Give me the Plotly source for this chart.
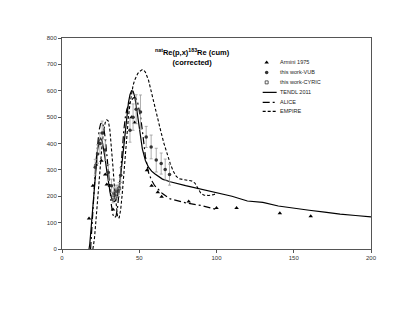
import plotly.graph_objects as go

# ---------------- data ----------------
armini_e = [17.5, 20, 22, 25.5, 28, 29, 31, 33, 34.5, 45, 47, 55, 58, 62, 64.5, 82, 100, 113, 141, 161]
armini_xs = [116, 240, 320, 335, 282, 245, 240, 150, 200, 500, 480, 299, 240, 215, 198, 180, 155, 155, 136, 124]

vub_e = [21.5, 23, 24.5, 26, 28, 30, 32, 33.5, 35, 36.5, 38, 44, 46, 48, 50.8, 54.5, 57.7, 61, 64.2, 66.8, 69.6]
vub_xs = [310, 360, 400, 440, 375, 290, 240, 210, 220, 220, 280, 450, 500, 530, 519, 425, 387, 337, 324, 301, 282]
vub_err = [30, 35, 40, 45, 40, 30, 25, 22, 22, 22, 28, 45, 50, 55, 65, 40, 45, 45, 40, 40, 40]

cyric_e = [33, 35, 37]
cyric_xs = [195, 210, 230]
cyric_err = [20, 20, 22]

tendl_e = [17.5, 18, 19, 20, 21, 22, 23, 24, 25, 26, 27, 28, 29, 30, 31, 32, 33, 34, 35, 36, 37, 38, 39, 40,
           41, 42, 43, 44, 45, 46, 47, 48, 49, 50, 52, 54, 56, 58, 60, 65, 70, 80, 90, 100, 110, 120, 130,
           140, 150, 160, 170, 180, 190, 200]
tendl_xs = [0, 20, 90, 170, 250, 320, 375, 410, 420, 410, 380, 340, 295, 255, 220, 195, 182, 180, 188, 205,
            235, 280, 340, 400, 460, 510, 555, 585, 600, 598, 580, 545, 500, 450, 380, 335, 310, 295, 285,
            265, 255, 240, 226, 213, 200, 182, 177, 163, 154, 147, 140, 132, 127, 122]

alice_e = [18.5, 19, 20, 21, 22, 23, 24, 25, 26, 27, 28, 29, 30, 31, 32, 33, 34, 35, 36, 37, 38, 39, 40, 41,
           42, 43, 44, 45, 46, 47, 48, 49, 50, 51, 52, 53, 54, 56, 58, 60, 65, 70, 80, 90, 100]
alice_xs = [0, 40, 140, 240, 330, 400, 450, 475, 480, 460, 420, 360, 290, 220, 165, 130, 118, 125, 160, 220,
            300, 380, 450, 500, 530, 545, 555, 565, 572, 575, 570, 555, 530, 495, 450, 400, 350, 290, 260,
            240, 210, 190, 175, 165, 150]

empire_e = [20, 21, 22, 23, 24, 25, 26, 27, 28, 29, 30, 31, 32, 33, 34, 35, 36, 37, 38, 39, 40, 41, 42, 43,
            44, 45, 46, 47, 48, 49, 50, 51, 52, 53, 54, 56, 58, 60, 62, 64, 66, 68, 70, 72, 74, 76, 80, 84,
            86, 88, 90, 92, 95, 98, 100]
empire_xs = [0, 40, 110, 190, 270, 340, 400, 450, 480, 490, 485, 450, 390, 310, 230, 160, 120, 118, 150, 210,
             290, 370, 440, 500, 550, 590, 620, 640, 655, 665, 672, 678, 680, 678, 670, 640, 590, 535, 490,
             445, 400, 360, 325, 295, 275, 266, 262, 258, 250, 230, 210, 204, 203, 206, 210]

legend_names = ["Armini 1975", "this work-VUB", "this work-CYRIC", "TENDL 2011", "ALICE", "EMPIRE"]

FONT = "Liberation Sans, Arial, sans-serif"
DASHDOT = "7px,3px,2px,3px"
DASH = "3px,2px"

fig = go.Figure()

# model curves
fig.add_trace(go.Scatter(x=tendl_e, y=tendl_xs, mode="lines", line=dict(color="black", width=1.2)))
fig.add_trace(go.Scatter(x=alice_e, y=alice_xs, mode="lines", line=dict(color="black", width=1.2, dash=DASHDOT)))
fig.add_trace(go.Scatter(x=empire_e, y=empire_xs, mode="lines", line=dict(color="black", width=1.1, dash=DASH)))

# experimental points
fig.add_trace(go.Scatter(x=armini_e, y=armini_xs, mode="markers",
                         marker=dict(symbol="triangle-up", size=4, color="black")))
fig.add_trace(go.Scatter(x=vub_e, y=vub_xs, mode="markers",
                         error_y=dict(type="data", array=vub_err, color="#999999", thickness=0.8, width=1.5),
                         marker=dict(symbol="circle", size=3.5, color="#333333")))
fig.add_trace(go.Scatter(x=cyric_e, y=cyric_xs, mode="markers",
                         error_y=dict(type="data", array=cyric_err, color="#999999", thickness=0.8, width=1.5),
                         marker=dict(symbol="square-open", size=3, color="#333333", line=dict(width=0.8))))

# ---- hand-made compact legend (screen-pixel coords on an overlay axis) ----
rows = [62, 72, 82, 92, 102, 111]
fig.add_trace(go.Scatter(x=[267], y=[rows[0]], mode="markers", xaxis="x2", yaxis="y2",
                         marker=dict(symbol="triangle-up", size=4, color="black")))
fig.add_trace(go.Scatter(x=[267], y=[rows[1]], mode="markers", xaxis="x2", yaxis="y2",
                         marker=dict(symbol="circle", size=3.5, color="#333333")))
fig.add_trace(go.Scatter(x=[267], y=[rows[2]], mode="markers", xaxis="x2", yaxis="y2",
                         marker=dict(symbol="square-open", size=3, color="#333333", line=dict(width=0.8))))
fig.add_trace(go.Scatter(x=[263, 277], y=[rows[3], rows[3]], mode="lines", xaxis="x2", yaxis="y2",
                         line=dict(color="black", width=1.2)))
fig.add_trace(go.Scatter(x=[263, 277], y=[rows[4], rows[4]], mode="lines", xaxis="x2", yaxis="y2",
                         line=dict(color="black", width=1.2, dash=DASHDOT)))
fig.add_trace(go.Scatter(x=[263, 277], y=[rows[5], rows[5]], mode="lines", xaxis="x2", yaxis="y2",
                         line=dict(color="black", width=1.1, dash=DASH)))
for name, ry in zip(legend_names, rows):
    fig.add_annotation(x=278.5, y=ry, xref="x2", yref="y2", text=name, showarrow=False,
                       xanchor="left", yanchor="middle", font=dict(family=FONT, size=5.5, color="#222222"))

# title and axis titles
fig.add_annotation(x=193, y=57, xref="x2", yref="y2",
                   text="<b><sup>nat</sup>Re(p,x)<sup>183</sup>Re (cum)<br>(corrected)</b>",
                   showarrow=False, xanchor="center", yanchor="middle",
                   font=dict(family=FONT, size=7.5, color="black"))
fig.add_annotation(x=217, y=276, xref="x2", yref="y2", text="<b>Proton  energy (MeV)</b>",
                   showarrow=False, xanchor="center", yanchor="middle",
                   font=dict(family=FONT, size=7, color="black"))
fig.add_annotation(x=36, y=143, xref="x2", yref="y2", text="<b>Cross-section (mb)</b>", textangle=-90,
                   showarrow=False, xanchor="center", yanchor="middle",
                   font=dict(family=FONT, size=7, color="black"))

# the page body adds ~8px offset, so the figure is a bit smaller and shifted up/left
fig.update_layout(
    width=407, height=313,
    margin=dict(l=54, r=43.5, t=29.5, b=72),
    paper_bgcolor="white", plot_bgcolor="white",
    showlegend=False,
    xaxis=dict(range=[0, 200], tickvals=[0, 50, 100, 150, 200], showgrid=False, zeroline=False,
               showline=True, linecolor="#555555", linewidth=1, mirror=True,
               ticks="outside", ticklen=3, tickcolor="#555555",
               tickfont=dict(family=FONT, size=6, color="#333333")),
    yaxis=dict(range=[0, 800], tickvals=list(range(0, 801, 100)), showgrid=False, zeroline=False,
               showline=True, linecolor="#555555", linewidth=1, mirror=True,
               ticks="outside", ticklen=3, tickcolor="#555555",
               tickfont=dict(family=FONT, size=6, color="#333333")),
    xaxis2=dict(overlaying="x", range=[62, 371.5], visible=False, fixedrange=True),
    yaxis2=dict(overlaying="y", range=[249, 37.5], visible=False, fixedrange=True),
)

fig.write_html("out.html")
